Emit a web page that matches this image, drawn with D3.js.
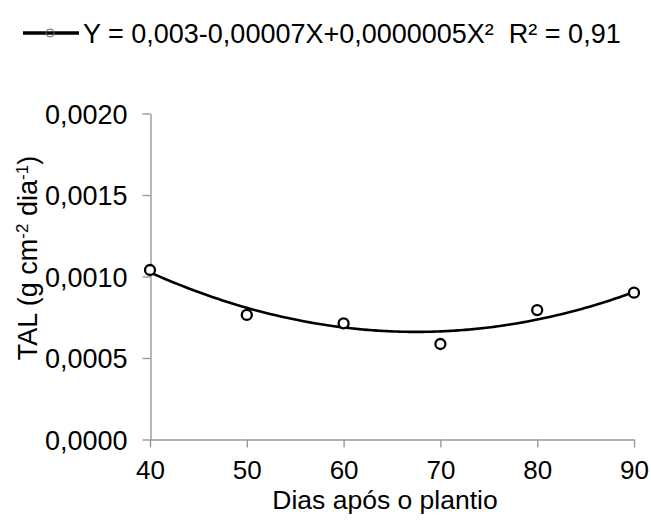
<!DOCTYPE html>
<html>
<head>
<meta charset="utf-8">
<script src="https://cdn.jsdelivr.net/npm/d3@7"></script>
<style>
  body { margin: 0; background: #fff; }
  svg text { font-family: "Liberation Sans", Arial, sans-serif; fill: #000; }
  .axis path, .axis line { stroke: #999; stroke-width: 1.4; }
</style>
</head>
<body>
<script>
// dias apos o plantio and measured TAL values
var days = [40, 50, 60, 70, 80, 90];
var tal = [0.00104, 0.000764, 0.000713, 0.000586, 0.000794, 0.000901];
var xTicks = [40, 50, 60, 70, 80, 90];
var yTicks = [0, 0.0005, 0.001, 0.0015, 0.002];
// fitted curve as drawn (a + bX + cX^2)
var trendCoef = [0.002859, -0.00006515, 0.0000004826];

var w = 651, h = 523;

var svg = d3.select("body").append("svg")
  .attr("width", w)
  .attr("height", h);

var x_scale = d3.scaleLinear().domain([40, 90]).range([150, 634]);
var y_scale = d3.scaleLinear().domain([0, 0.002]).range([439.5, 113.5]);

var comma = function(d) { return d3.format(".4f")(d).replace(".", ","); };

// x axis
var gx = svg.append("g")
  .attr("class", "x axis")
  .attr("transform", "translate(0,439.5)")
  .call(d3.axisBottom(x_scale).tickValues(xTicks).tickSize(8).tickSizeOuter(0).tickPadding(0));
gx.selectAll("text")
  .attr("y", 39).attr("dy", 0)
  .style("font-size", "26px");

// y axis
var gy = svg.append("g")
  .attr("class", "y axis")
  .attr("transform", "translate(150.5,0)")
  .call(d3.axisLeft(y_scale).tickValues(yTicks).tickFormat(comma).tickSize(8).tickSizeOuter(0));
gy.selectAll("text")
  .attr("x", -23)
  .attr("dy", "0.36em")
  .style("font-size", "27px");

// trend curve
var curveX = d3.range(40, 90.01, 0.5);
var line = d3.line()
  .x(function(d) { return x_scale(d); })
  .y(function(d) { return y_scale(trendCoef[0] + trendCoef[1] * d + trendCoef[2] * d * d); })
  .curve(d3.curveBasis);

svg.append("path")
  .datum(curveX)
  .attr("d", line)
  .attr("fill", "none")
  .attr("stroke", "#000")
  .attr("stroke-width", 2.6);

// points
svg.selectAll("circle.pt")
  .data(days)
  .enter()
  .append("circle")
  .attr("class", "pt")
  .attr("cx", function(d) { return x_scale(d); })
  .attr("cy", function(d, i) { return y_scale(tal[i]); })
  .attr("r", 5)
  .attr("fill", "#fff")
  .attr("stroke", "#000")
  .attr("stroke-width", 2.3);

// axis titles
var ylab = svg.append("text")
  .attr("transform", "translate(37,258) rotate(-90)")
  .attr("text-anchor", "middle")
  .style("font-size", "27px");
ylab.append("tspan").text("TAL (g cm");
ylab.append("tspan").attr("baseline-shift", "super").style("font-size", "17px").text("-2");
ylab.append("tspan").text(" dia");
ylab.append("tspan").attr("baseline-shift", "super").style("font-size", "17px").text("-1");
ylab.append("tspan").text(")");

svg.append("text")
  .attr("x", 385)
  .attr("y", 509)
  .attr("text-anchor", "middle")
  .style("font-size", "26.5px")
  .text("Dias após o plantio");

// legend
svg.append("line")
  .attr("x1", 23).attr("x2", 79)
  .attr("y1", 33).attr("y2", 33)
  .attr("stroke", "#000")
  .attr("stroke-width", 3.5);
svg.append("circle")
  .attr("cx", 50).attr("cy", 33).attr("r", 4)
  .attr("fill", "none")
  .attr("stroke", "#666")
  .attr("stroke-width", 1);

svg.append("text")
  .attr("x", 83)
  .attr("y", 43)
  .style("font-size", "27px")
  .text("Y = 0,003-0,00007X+0,0000005X²  R² = 0,91")
  .attr("xml:space", "preserve");
</script>
</body>
</html>
